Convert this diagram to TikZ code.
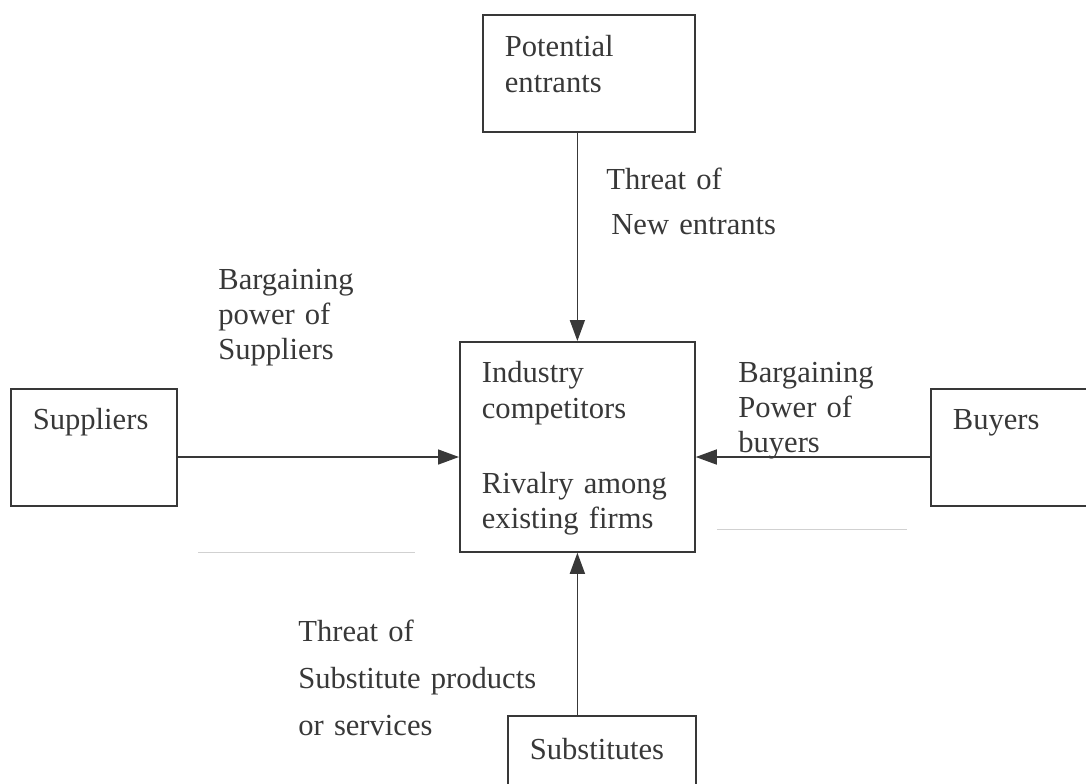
\documentclass[tikz,border=0pt]{standalone}
\usepackage{fontspec}
\setmainfont{Liberation Serif}
\usepackage{tikz}
\usetikzlibrary{arrows.meta,positioning,calc}
\definecolor{ink}{gray}{0.22}
\definecolor{scan}{gray}{0.82}
\tikzset{
	frc/.style={draw=ink, line width=1pt, align=left, anchor=north west,
		inner ysep=0pt, inner xsep=0.44cm, text=ink,
		font=\fontsize{17.4}{20}\selectfont},
	lbl/.style={anchor=base west, align=left, inner sep=0pt, text=ink,
		text width=5cm},
	con/.style={draw=ink, line width=0.9pt, ->},
	faint/.style={draw=scan, line width=0.5pt},
}

\begin{document}
\begin{tikzpicture}[x=1cm, y=1cm, >={Triangle[length=4.2mm,width=3mm]}]
	\useasboundingbox (0,0) rectangle (21.72,-15.66);
	\node[frc, text width=3.36cm, text height=0.84cm, text depth=1.5cm] at (9.64,-0.28) (pe) {Potential\\entrants};
	\node[frc, text width=3.82cm, text height=0.82cm, text depth=3.38cm] at (9.18,-6.82) (ic) {Industry\\competitors\\[0.8cm]Rivalry among\\existing firms};
	\node[frc, text width=2.44cm, text height=0.82cm, text depth=1.52cm] at (0.20,-7.76) (sup) {Suppliers};
	\node[frc, text width=2.52cm, text height=0.82cm, text depth=1.52cm] at (18.60,-7.76) (buy) {Buyers};
	\node[frc, text width=2.88cm, text height=0.88cm, text depth=1.20cm] at (10.14,-14.30) (sub) {Substitutes};
	\coordinate (lvl) at (0,-9.14);
	\draw[con] (ic.north |- pe.south) -- (ic.north);
	\draw[con] (ic.south |- sub.north) -- (ic.south);
	\draw[con] (sup.east |- lvl) -- (ic.west |- lvl);
	\draw[con] (buy.west |- lvl) -- (ic.east |- lvl);
	\node[lbl, font=\fontsize{17.4}{26}\selectfont] at (12.12,-3.78) (thn) {Threat of\\\hspace*{0.1cm}New entrants};
	\node[lbl, font=\fontsize{17.4}{20}\selectfont] at (4.36,-5.78) (bps) {Bargaining\\power of\\Suppliers};
	\node[lbl, font=\fontsize{17.4}{20}\selectfont] at (14.76,-7.64) (bpb) {Bargaining\\Power of\\buyers};
	\node[lbl, font=\fontsize{17.4}{27}\selectfont] at (5.96,-12.82) (tsp) {Threat of\\Substitute products\\or services};
	\draw[faint] (3.96,-11.04) -- (8.30,-11.04);
	\draw[faint] (14.34,-10.58) -- (18.14,-10.58);
\end{tikzpicture}
\end{document}
